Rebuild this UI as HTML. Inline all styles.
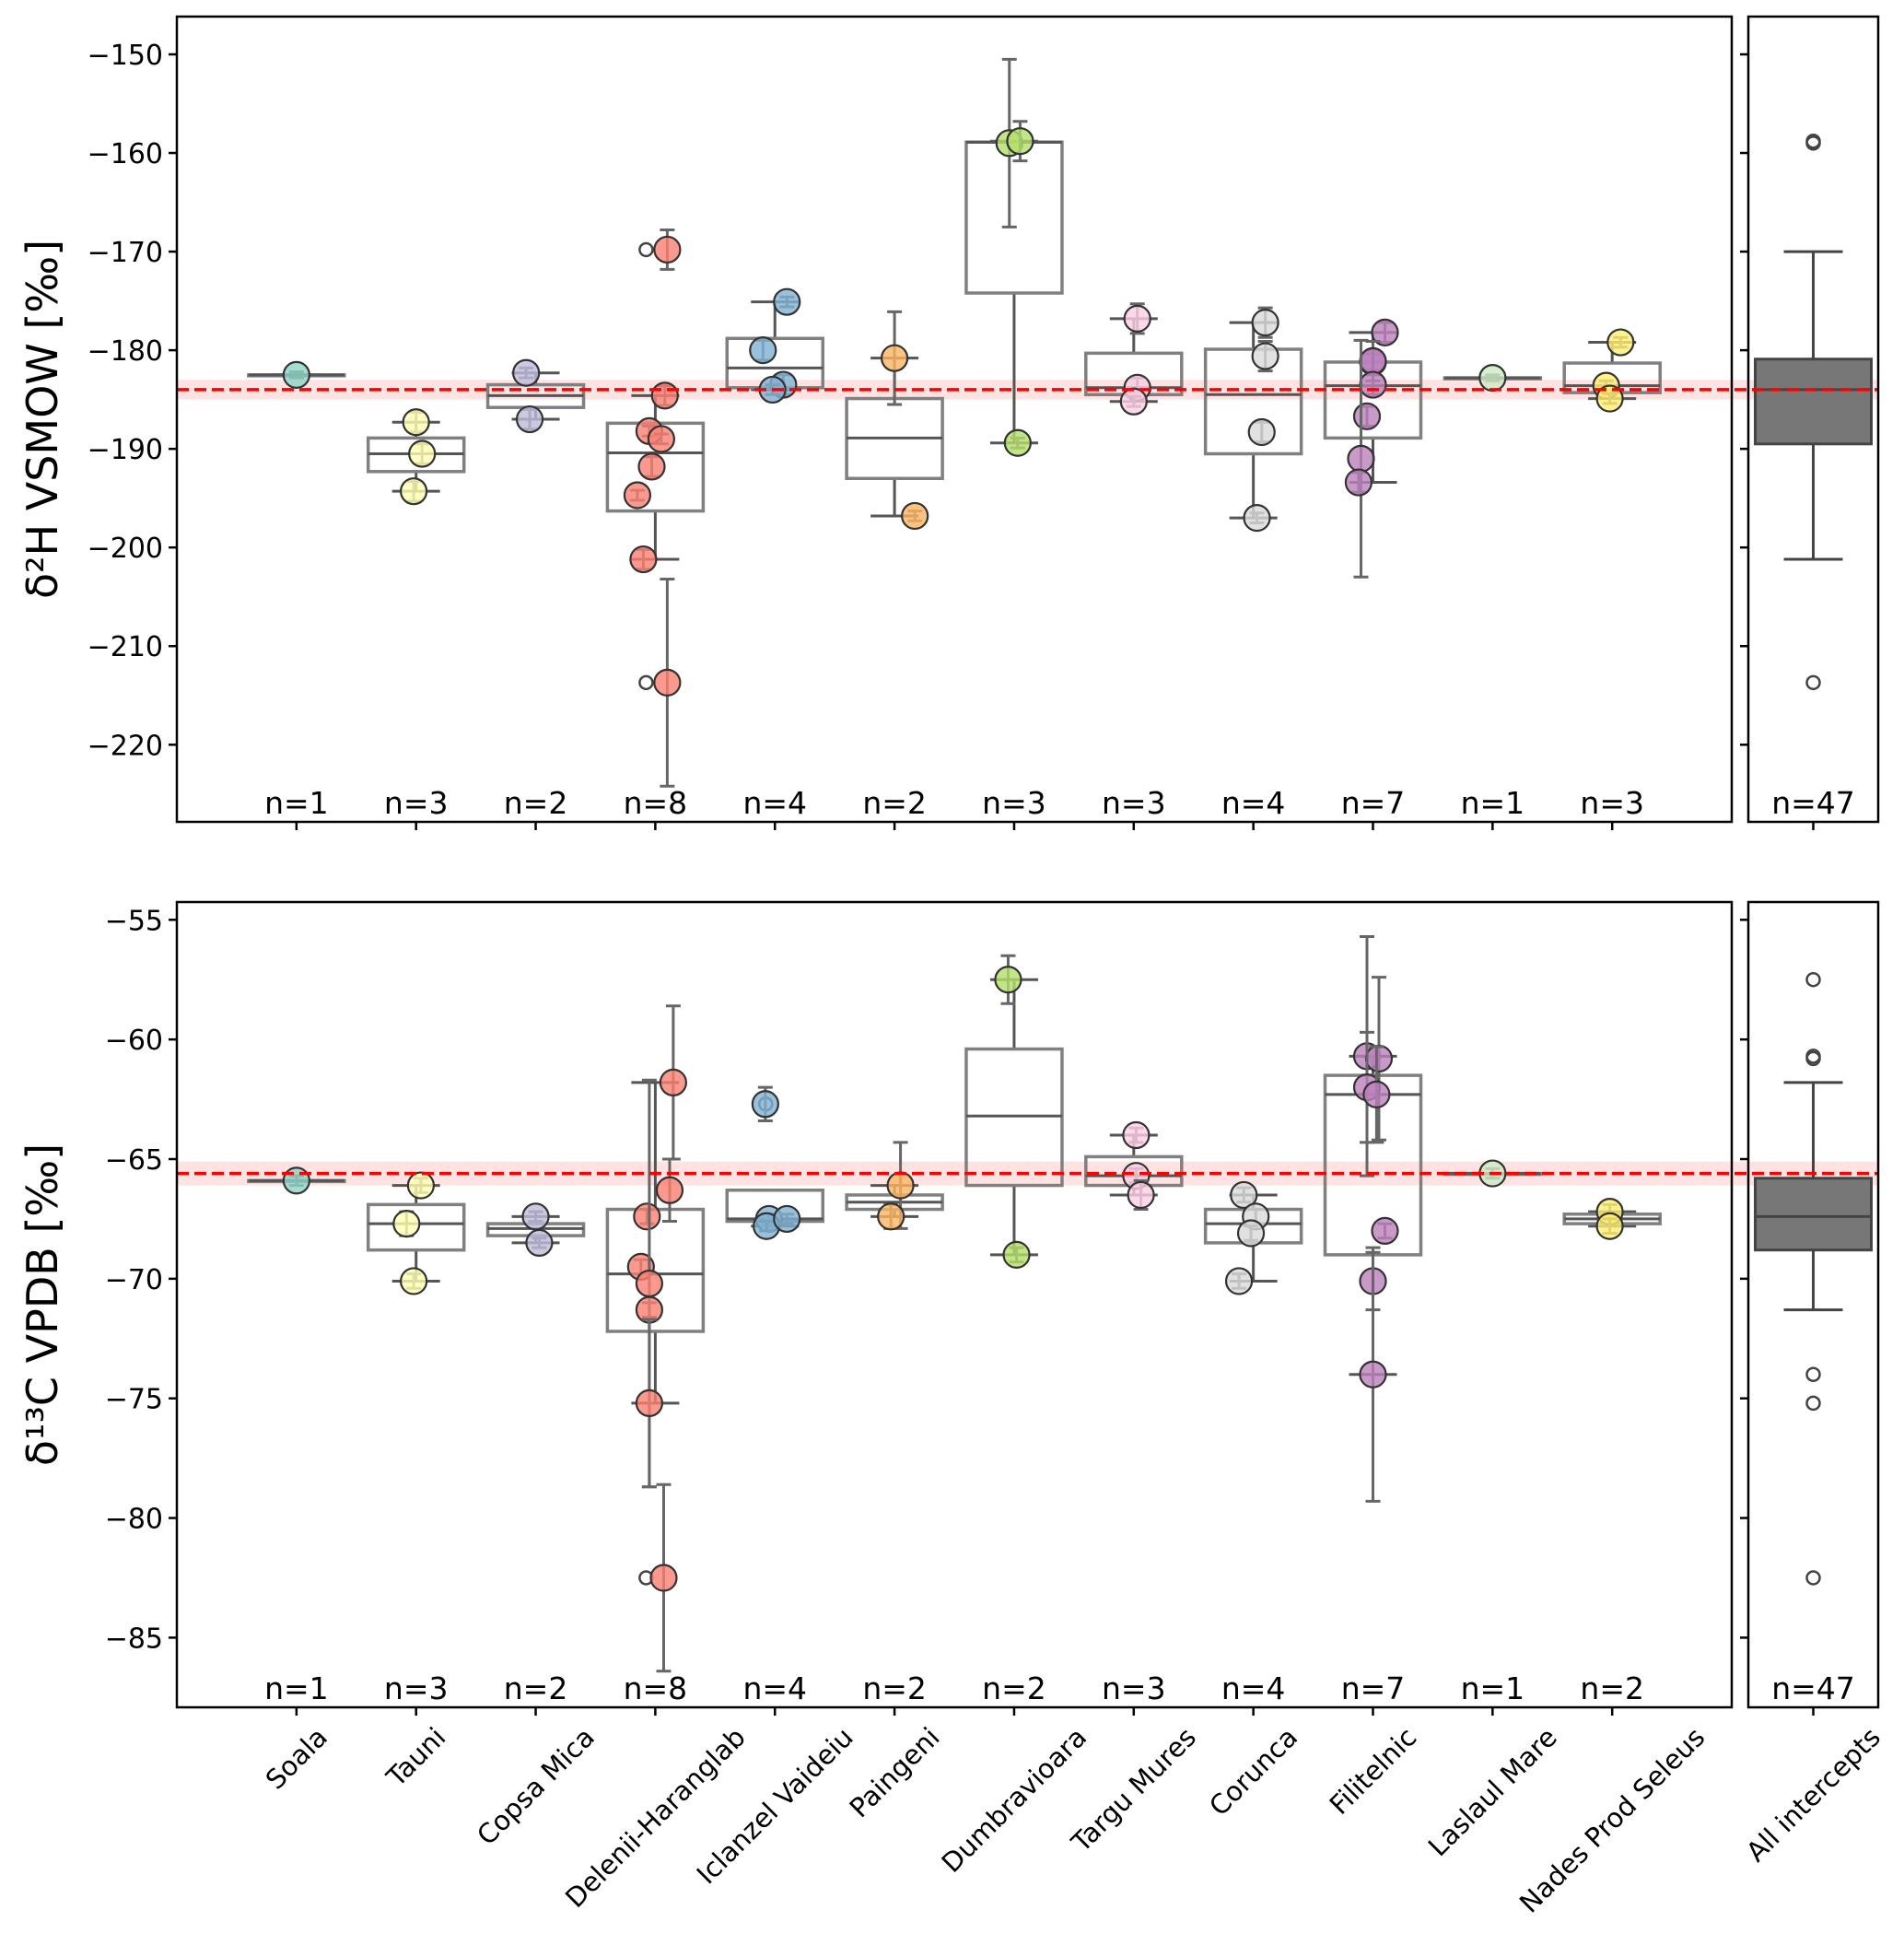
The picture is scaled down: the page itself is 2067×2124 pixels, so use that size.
<!DOCTYPE html>
<html><head><meta charset="utf-8"><style>
body{margin:0;background:#fff}
svg{display:block;font-family:"DejaVu Sans","Liberation Sans",sans-serif}
</style></head><body>
<svg id="chart" width="2067" height="2124" viewBox="0 0 2067 2124" xmlns="http://www.w3.org/2000/svg"></svg>
<script>
const categories=["Soala","Tauni","Copsa Mica","Delenii-Haranglab","Iclanzel Vaideiu","Paingeni","Dumbravioara","Targu Mures","Corunca","Filitelnic","Laslaul Mare","Nades Prod Seleus"];
const colors=["#8dd3c7","#ffffb3","#bebada","#fb8072","#80b1d3","#fdb462","#b3de69","#fccde5","#d9d9d9","#bc80bd","#ccebc5","#ffed6f"];
// top panel (d2H)
const hCounts=[1,3,2,8,4,2,3,3,4,7,1,3];
const hQ1=[-182.5,-192.3,-185.8,-196.3,-183.8,-193,-174.2,-184.5,-190.5,-188.9,-182.8,-184.3];
const hMed=[-182.5,-190.5,-184.6,-190.4,-181.8,-188.9,-158.9,-183.8,-184.5,-183.6,-182.8,-183.6];
const hQ3=[-182.5,-188.9,-183.5,-187.4,-178.8,-184.9,-158.9,-180.3,-179.9,-181.2,-182.8,-181.3];
const hWlo=[-182.5,-194.3,-187,-201.2,-184,-196.8,-189.4,-185.2,-197,-193.4,-182.8,-184.9];
const hWhi=[-182.5,-187.3,-182.3,-184.6,-175.1,-180.8,-158.8,-176.8,-177.2,-178.2,-182.8,-179.2];
const hOutCat=[3,3];
const hOutVal=[-169.8,-213.7];
const hPtCat=[0,1,1,1,2,2,3,3,3,3,3,3,3,3,4,4,4,4,5,5,6,6,6,7,7,7,8,8,8,8,9,9,9,9,9,9,9,10,11,11,11];
const hPtVal=[-182.5,-187.3,-190.5,-194.3,-182.3,-187,-169.8,-184.6,-188.2,-189,-191.8,-194.7,-201.2,-213.7,-175.1,-180,-183.5,-184,-180.8,-196.8,-159,-158.8,-189.4,-176.8,-183.8,-185.2,-177.2,-180.6,-188.3,-197,-178.2,-181.2,-181.1,-183.5,-186.7,-191,-193.4,-182.8,-179.2,-183.6,-184.9];
const hPtJit=[0,0,0.05,-0.02,-0.08,-0.05,0.1,0.08,-0.05,0.05,-0.03,-0.15,-0.1,0.1,0.1,-0.1,0.07,-0.02,0,0.17,-0.04,0.05,0.03,0.03,0.03,0,0.1,0.1,0.07,0.03,0.1,0,0,0,-0.05,-0.1,-0.12,0,0.07,-0.05,-0.02];
const hPtErr=[0.3,1,1,1,0.5,1,2,1,0.5,0.5,1,0.5,1,10.5,0.5,1,1,0.5,4.7,0.5,8.5,2,0.5,1.5,1,0.5,1.5,1.5,1,0.5,1,0.8,2,1,1,12,1,0.3,0.5,0.5,0.5];
const hAll=[-189.5,-184,-180.9,-201.2,-170];
const hAllOut=[-158.8,-159,-213.7];
const hRef=-184, hRefBand=1;
const hTicks=[-150,-160,-170,-180,-190,-200,-210,-220];
// bottom panel (d13C)
const cCounts=[1,3,2,8,4,2,2,3,4,7,1,2];
const cQ1=[-65.9,-68.8,-68.2,-72.2,-67.6,-67.1,-66.1,-66.1,-68.5,-69,-65.6,-67.7];
const cMed=[-65.9,-67.7,-67.9,-69.8,-67.5,-66.8,-63.2,-65.7,-67.7,-62.3,-65.6,-67.5];
const cQ3=[-65.9,-66.9,-67.7,-67.1,-66.3,-66.5,-60.4,-64.9,-67.1,-61.5,-65.6,-67.3];
const cWlo=[-65.9,-70.1,-68.5,-75.2,-67.8,-67.4,-69,-66.5,-70.1,-74,-65.6,-67.8];
const cWhi=[-65.9,-66.1,-67.4,-61.8,-66.3,-66.1,-57.5,-64,-66.5,-60.7,-65.6,-67.2];
const cOutCat=[3,4];
const cOutVal=[-82.5,-62.7];
const cPtCat=[0,1,1,1,2,2,3,3,3,3,3,3,3,3,4,4,4,4,5,5,6,6,7,7,7,8,8,8,8,9,9,9,9,9,9,9,10,11,11];
const cPtVal=[-65.9,-66.1,-67.7,-70.1,-67.4,-68.5,-61.8,-66.3,-67.4,-69.5,-70.2,-71.3,-75.2,-82.5,-62.7,-67.5,-67.8,-67.5,-66.1,-67.4,-57.5,-69,-64,-65.7,-66.5,-66.5,-67.4,-68.1,-70.1,-60.7,-60.8,-62,-62.3,-68,-70.1,-74,-65.6,-67.2,-67.8];
const cPtJit=[0,0.04,-0.08,-0.02,0,0.03,0.15,0.12,-0.07,-0.12,-0.05,-0.05,-0.05,0.07,-0.08,-0.05,-0.07,0.1,0.05,-0.03,-0.05,0.02,0.02,0.02,0.06,-0.08,0.02,-0.02,-0.12,-0.05,0.05,-0.05,0.03,0.1,0,0,0,-0.02,-0.02];
const cPtErr=[0.2,0.3,0.5,0.3,0.2,0.2,3.2,1.3,0.3,0.3,8.5,0.3,3.5,3.9,0.7,0.2,0.2,0.2,1.8,0.5,1,0.3,0.3,0.3,0.6,0.3,0.3,0.3,0.3,5,3.4,2.3,2,0.3,1.2,5.3,0.2,0.3,0.3];
const cAll=[-68.8,-67.4,-65.8,-71.3,-61.8];
const cAllOut=[-57.5,-60.7,-60.8,-74,-75.2,-82.5];
const cRef=-65.6, cRefBand=0.5;
const cTicks=[-55,-60,-65,-70,-75,-80,-85];

const NS="http://www.w3.org/2000/svg";
const svg=document.getElementById('chart');
function el(tag,attrs,parent,text){const e=document.createElementNS(NS,tag);for(const k in attrs)e.setAttribute(k,attrs[k]);if(text!==undefined)e.textContent=text;(parent||svg).appendChild(e);return e;}
const L=192,R=1880,SL=1898,SR=2039,SC=1968.5,STEP=129.85;
const xc=i=>L+(i+1)*STEP;
const fmt=v=>(v<0?"\u2212":"")+Math.abs(v);

function panel(cfg){
  const g=el('g',{});
  
  
  const y=cfg.y;
  const band=el('rect',{x:L,y:y(cfg.ref+cfg.band),width:SR-L,height:y(cfg.ref-cfg.band)-y(cfg.ref+cfg.band),fill:'#ffd6d6',opacity:0.7},g);
  
  for(let i=0;i<categories.length;i++){
    const x=xc(i),w=104;
    const bg=el('g',{},g);
    
    
    el('line',{x1:x,x2:x,y1:y(cfg.q3[i]),y2:y(cfg.whi[i]),stroke:'#555',"stroke-width":3},bg);
    el('line',{x1:x,x2:x,y1:y(cfg.q1[i]),y2:y(cfg.wlo[i]),stroke:'#555',"stroke-width":3},bg);
    el('line',{x1:x-w/4,x2:x+w/4,y1:y(cfg.whi[i]),y2:y(cfg.whi[i]),stroke:'#555',"stroke-width":3},bg);
    el('line',{x1:x-w/4,x2:x+w/4,y1:y(cfg.wlo[i]),y2:y(cfg.wlo[i]),stroke:'#555',"stroke-width":3},bg);
    el('rect',{x:x-w/2,y:y(cfg.q3[i]),width:w,height:Math.max(1,y(cfg.q1[i])-y(cfg.q3[i])),fill:'none',stroke:'#808080',"stroke-width":3.5},bg);
    el('line',{x1:x-w/2,x2:x+w/2,y1:y(cfg.med[i]),y2:y(cfg.med[i]),stroke:'#555',"stroke-width":3},bg);
  }
  for(let k=0;k<cfg.outCat.length;k++){
    const o=el('circle',{cx:xc(cfg.outCat[k])-10,cy:y(cfg.outVal[k]),r:7,fill:'none',stroke:'#444',"stroke-width":2.5},g);
    
  }
  for(let k=0;k<cfg.ptVal.length;k++){
    const c=cfg.ptCat[k],x=xc(c)+cfg.ptJit[k]*STEP,v=cfg.ptVal[k],e=cfg.ptErr[k];
    const pg=el('g',{},g);
    
    
    el('line',{x1:x,x2:x,y1:y(v+e),y2:y(v-e),stroke:'#666',"stroke-width":3},pg);
    el('line',{x1:x-8,x2:x+8,y1:y(v+e),y2:y(v+e),stroke:'#666',"stroke-width":3},pg);
    el('line',{x1:x-8,x2:x+8,y1:y(v-e),y2:y(v-e),stroke:'#666',"stroke-width":3},pg);
    el('circle',{cx:x,cy:y(v),r:14,fill:colors[c],"fill-opacity":0.8,stroke:'#333',"stroke-width":2.2},pg);
  }
  const a=cfg.all, sg=el('g',{},g);
  
  
  el('line',{x1:SC,x2:SC,y1:y(a[2]),y2:y(a[4]),stroke:'#444',"stroke-width":3},sg);
  el('line',{x1:SC,x2:SC,y1:y(a[0]),y2:y(a[3]),stroke:'#444',"stroke-width":3},sg);
  el('line',{x1:SC-32,x2:SC+32,y1:y(a[4]),y2:y(a[4]),stroke:'#444',"stroke-width":3},sg);
  el('line',{x1:SC-32,x2:SC+32,y1:y(a[3]),y2:y(a[3]),stroke:'#444',"stroke-width":3},sg);
  el('rect',{x:SC-63,y:y(a[2]),width:126,height:y(a[0])-y(a[2]),fill:'#777',stroke:'#444',"stroke-width":3},sg);
  el('line',{x1:SC-63,x2:SC+63,y1:y(a[1]),y2:y(a[1]),stroke:'#444',"stroke-width":3},sg);
  for(const v of cfg.allOut){
    const o=el('circle',{cx:SC,cy:y(v),r:7,fill:'none',stroke:'#444',"stroke-width":2.5},sg);
    
  }
  const rl=el('line',{x1:L,x2:SR,y1:y(cfg.ref),y2:y(cfg.ref),stroke:'#ff0000',"stroke-width":3.5,"stroke-dasharray":"13,6"},g);
  
  el('rect',{x:L,y:cfg.top,width:R-L,height:cfg.bot-cfg.top,fill:'none',stroke:'#000',"stroke-width":2.5},g);
  el('rect',{x:SL,y:cfg.top,width:SR-SL,height:cfg.bot-cfg.top,fill:'none',stroke:'#000',"stroke-width":2.5},g);
  for(const t of cfg.ticks){
    el('line',{x1:L-9,x2:L,y1:y(t),y2:y(t),stroke:'#000',"stroke-width":2.5},g);
    el('line',{x1:SL-9,x2:SL,y1:y(t),y2:y(t),stroke:'#000',"stroke-width":2.5},g);
    const tl=el('text',{x:L-15,y:y(t)+11,"text-anchor":"end","font-size":30},g,fmt(t));
    
  }
  for(let i=0;i<categories.length;i++){
    el('line',{x1:xc(i),x2:xc(i),y1:cfg.bot,y2:cfg.bot+9,stroke:'#000',"stroke-width":2.5},g);
    const nl=el('text',{x:xc(i),y:cfg.bot-9,"text-anchor":"middle","font-size":33},g,'n='+cfg.counts[i]);
    
  }
  el('line',{x1:SC,x2:SC,y1:cfg.bot,y2:cfg.bot+9,stroke:'#000',"stroke-width":2.5},g);
  const na=el('text',{x:SC,y:cfg.bot-9,"text-anchor":"middle","font-size":33},g,'n=47');
  
  const yt=el('text',{transform:`translate(62,${(cfg.top+cfg.bot)/2}) rotate(-90)`,"text-anchor":"middle","font-size":46},g);
  
  yt.textContent=cfg.title;
}
const yTop=v=>59+(-150-v)*10.704;
const yBot=v=>998.3+(-55-v)*25.97;
panel({name:'d2h-panel',y:yTop,top:18,bot:892,ref:hRef,band:hRefBand,q1:hQ1,med:hMed,q3:hQ3,wlo:hWlo,whi:hWhi,outCat:hOutCat,outVal:hOutVal,ptCat:hPtCat,ptVal:hPtVal,ptJit:hPtJit,ptErr:hPtErr,all:hAll,allOut:hAllOut,ticks:hTicks,counts:hCounts,title:'δ²H VSMOW [‰]'});
panel({name:'d13c-panel',y:yBot,top:979,bot:1853,ref:cRef,band:cRefBand,q1:cQ1,med:cMed,q3:cQ3,wlo:cWlo,whi:cWhi,outCat:cOutCat,outVal:cOutVal,ptCat:cPtCat,ptVal:cPtVal,ptJit:cPtJit,ptErr:cPtErr,all:cAll,allOut:cAllOut,ticks:cTicks,counts:cCounts,title:'δ¹³C VPDB [‰]'});
const labs=categories.concat(["All intercepts"]);
for(let i=0;i<labs.length;i++){
  const x=i<categories.length?xc(i):SC;
  const t=el('text',{"text-anchor":"middle","dominant-baseline":"central","font-size":29},svg,labs[i]);
  
  
  const len=t.getComputedTextLength();
  const half=(len+29)*0.7071/2;
  t.setAttribute('transform',`translate(${x},${1870+half}) rotate(-45)`);
}
</script>
</body></html>
